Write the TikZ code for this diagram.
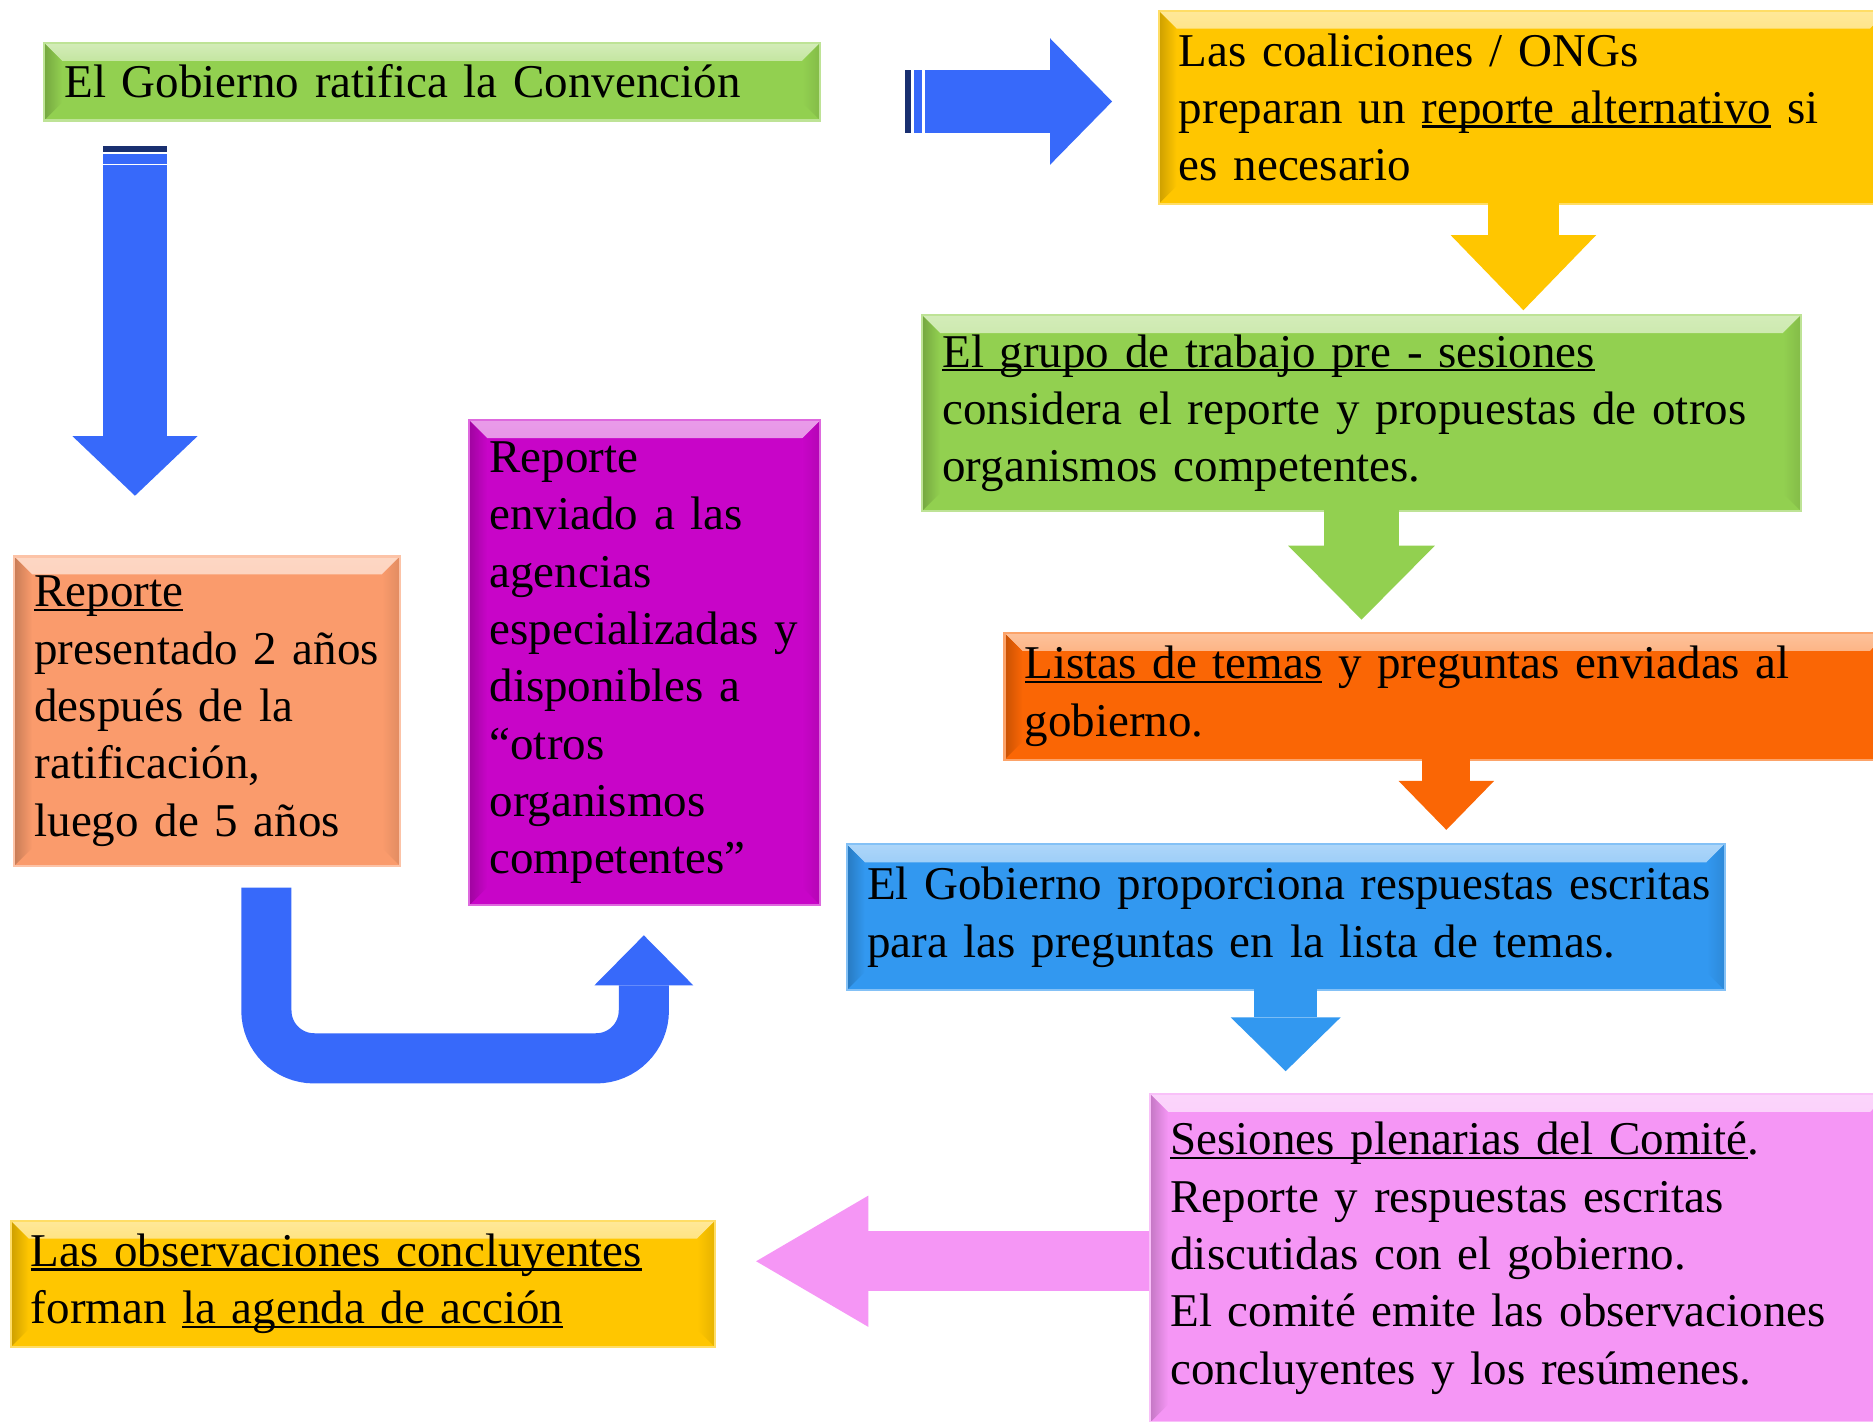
\documentclass[tikz,border=0pt]{standalone}
\usepackage{fontspec}
\setmainfont{Liberation Serif}
\usetikzlibrary{arrows.meta}
\usepackage{xcolor}

\definecolor{gobgreen}{RGB}{146,208,80}
\definecolor{ongyellow}{RGB}{255,198,0}
\definecolor{lstorange}{RGB}{250,102,5}
\definecolor{rspblue}{RGB}{50,152,240}
\definecolor{sespink}{RGB}{245,150,245}
\definecolor{envmagenta}{RGB}{200,5,200}
\definecolor{reporange}{RGB}{250,155,108}
\definecolor{arrowblue}{RGB}{55,105,250}

\newcommand\undl[1]{\setbox0=\hbox{#1}\leavevmode\rlap{\vrule height -0.9pt depth 2pt width \wd0}\box0\relax}

\tikzset{
  box/.style={anchor=north west, inner xsep=0.34cm, inner ysep=0pt, align=left,
    fill=#1, draw=#1!60!white, line width=1pt,
    path picture={
      \shade[top color=#1!40!white, bottom color=#1] (path picture bounding box.north west) -- (path picture bounding box.north east)
        -- ([shift={(-0.3cm,-0.3cm)}]path picture bounding box.north east) -- ([shift={(0.3cm,-0.3cm)}]path picture bounding box.north west) -- cycle;
      \shade[left color=#1!80!black, right color=#1] (path picture bounding box.north west) -- ([shift={(0.3cm,-0.3cm)}]path picture bounding box.north west)
        -- ([shift={(0.3cm,0.3cm)}]path picture bounding box.south west) -- (path picture bounding box.south west) -- cycle;
      \shade[right color=#1!90!black, left color=#1] (path picture bounding box.north east) -- ([shift={(-0.3cm,-0.3cm)}]path picture bounding box.north east)
        -- ([shift={(-0.3cm,0.3cm)}]path picture bounding box.south east) -- (path picture bounding box.south east) -- cycle;
    }},
  blk/.style n args={3}{line width=#1, -{Triangle[width=#2, length=#3, line width=0pt]}},
}

\begin{document}
\begin{tikzpicture}[x=0.02cm, y=-0.02cm, font=\fontsize{22.4}{27.3}\selectfont]
    \useasboundingbox (0,0) rectangle (1568,1190);

    \node[box=gobgreen, minimum width=13cm, minimum height=1.3cm, text width=12.32cm] (gov) at (36,35) {El Gobierno ratifica la Convención};
    \node[box=ongyellow, minimum width=12.22cm, minimum height=3.24cm, text width=11.54cm] (ong) at (969,8) {Las coaliciones / ONGs\\ preparan un \undl{reporte alternativo} si\\ es necesario};
    \node[box=gobgreen, minimum width=14.72cm, minimum height=3.28cm, text width=14.04cm] (grp) at (771,263) {\undl{El grupo de trabajo pre - sesiones}\\ considera el reporte y propuestas de otros\\ organismos competentes.};
    \node[box=lstorange, minimum width=14.8cm, minimum height=2.12cm, text width=14.12cm] (lst) at (840,529) {\undl{Listas de temas} y preguntas enviadas al\\ gobierno.};
    \node[box=rspblue, minimum width=14.7cm, minimum height=2.44cm, text width=14.02cm] (rsp) at (708,706) {\mbox{El Gobierno proporciona respuestas escritas}\\ para las preguntas en la lista de temas.};
    \node[box=sespink, minimum width=12.36cm, minimum height=5.5cm, text width=11.68cm] (ses) at (962,915) {\undl{Sesiones plenarias del Comité}.\\ Reporte y respuestas escritas\\ discutidas con el gobierno.\\ El comité emite las observaciones\\ concluyentes y los resúmenes.};
    \node[box=ongyellow, minimum width=11.8cm, minimum height=2.12cm, text width=11.12cm] (obs) at (8,1021) {\undl{Las observaciones concluyentes}\\ forman \undl{la agenda de acción}};
    \node[box=reporange, minimum width=6.46cm, minimum height=5.18cm, text width=5.78cm] (rep) at (11,465) {\undl{Reporte}\\ presentado~2~años\\ después de la\\ ratificación,\\ luego de 5 años};
    \node[box=envmagenta, minimum width=5.88cm, minimum height=8.12cm, text width=5.2cm] (env) at (392,351) {Reporte\\ enviado a las\\ agencias\\ especializadas~y\\ disponibles a\\ “otros\\ organismos\\ competentes”};

    \coordinate (d1) at (113,138);
    \coordinate (d2) at (113,415);
    \coordinate (r1) at (774,85);
    \coordinate (r2) at (931,85);
    \coordinate (u1) at (223,743);
    \coordinate (u2) at (539,783);

    \fill[arrowblue!45!black] (86,122) rectangle (140,127);
    \fill[arrowblue] (86,129) rectangle (140,137);
    \fill[arrowblue!45!black] (758,59) rectangle (763,111);
    \fill[arrowblue] (765,59) rectangle (772,111);

    \draw[arrowblue, blk={1.08cm}{2.1cm}{1cm}] (d1) -- (d2);
    \draw[arrowblue, blk={1.04cm}{2.12cm}{1.04cm}] (r1) -- (r2);
    \draw[arrowblue, blk={0.84cm}{1.66cm}{0.84cm}, rounded corners=0.8cm] (u1) -- (223,886) -- (539,886) -- (u2);
    \draw[ongyellow, blk={1.2cm}{2.44cm}{1.26cm}] ([yshift=0.5cm]ong.south) -- ++(0,113);
    \draw[gobgreen, blk={1.26cm}{2.46cm}{1.24cm}] ([yshift=0.44cm]grp.south) -- ++(0,112);
    \draw[lstorange, blk={0.8cm}{1.6cm}{0.82cm}] ([yshift=0.4cm]lst.south) -- ++(0,78);
    \draw[rspblue, blk={1.06cm}{1.84cm}{0.9cm}] ([yshift=0.36cm]rsp.south) -- ++(0,85);
    \draw[sespink, blk={1cm}{2.2cm}{1.88cm}] ([yshift=-0.05cm]ses.west) -- ++(-329,0);
\end{tikzpicture}
\end{document}
